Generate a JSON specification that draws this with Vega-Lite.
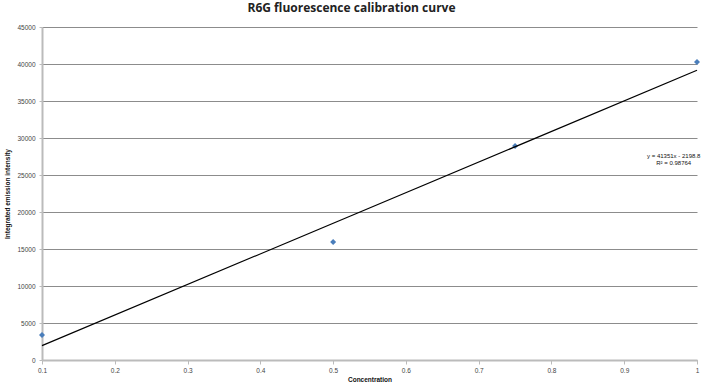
{
  "$schema": "https://vega.github.io/schema/vega-lite/v6.json",
  "width": 655,
  "height": 333,
  "autosize": "none",
  "padding": {"left": 42, "top": 27, "right": 6, "bottom": 29},
  "background": "white",
  "title": {
    "text": "R6G fluorescence calibration curve",
    "font": "Open Sans",
    "fontSize": 12,
    "fontWeight": "bold",
    "color": "#222222",
    "anchor": "middle",
    "dx": -18,
    "offset": 9
  },
  "config": {
    "view": {"stroke": null},
    "font": "Liberation Sans",
    "axis": {
      "labelFont": "Liberation Sans",
      "titleFont": "Liberation Sans",
      "labelFontSize": 6.5,
      "labelColor": "#444444",
      "titleFontSize": 6.5,
      "titleFontWeight": "bold",
      "titleColor": "#111111",
      "labelOverlap": false
    }
  },
  "datasets": {
    "points": [
      {"Concentration": 0.1, "Intensity": 3380},
      {"Concentration": 0.5, "Intensity": 15950},
      {"Concentration": 0.75, "Intensity": 28920},
      {"Concentration": 1.0, "Intensity": 40280}
    ],
    "trend": [
      {"Concentration": 0.1, "Intensity": 1936.3},
      {"Concentration": 1.0, "Intensity": 39152.2}
    ],
    "label": [
      {"Concentration": 0.968, "Intensity": 27570, "text": "y = 41351x - 2198.8"},
      {"Concentration": 0.968, "Intensity": 26620, "text": "R² = 0.98764"}
    ]
  },
  "encoding": {
    "x": {
      "field": "Concentration", "type": "quantitative",
      "scale": {"domain": [0.1, 1], "nice": false, "zero": false},
      "axis": {
        "values": [0.1, 0.2, 0.3, 0.4, 0.5, 0.6, 0.7, 0.8, 0.9, 1],
        "labelExpr": "datum.value == 1 ? '1' : format(datum.value, '.1f')",
        "grid": false,
        "domainColor": "#BBBBBB", "domainWidth": 2,
        "tickColor": "#BBBBBB", "tickSize": 4,
        "labelPadding": 3,
        "title": "Concentration", "titlePadding": 3,
        "labelFlush": false
      }
    },
    "y": {
      "field": "Intensity", "type": "quantitative",
      "scale": {"domain": [0, 45000], "nice": false},
      "axis": {
        "values": [0, 5000, 10000, 15000, 20000, 25000, 30000, 35000, 40000, 45000],
        "tickCount": 10,
        "format": "d",
        "grid": true, "gridColor": "#8C8C8C", "gridWidth": 1,
        "domainColor": "#BBBBBB", "domainWidth": 2,
        "tickColor": "#BBBBBB", "tickSize": 3,
        "labelPadding": 4,
        "labelOverlap": false,
        "title": "Integrated emission intensity", "titlePadding": 6
      }
    }
  },
  "layer": [
    {
      "data": {"name": "points"},
      "mark": {"type": "point", "shape": "diamond", "filled": true, "size": 36, "color": "#4A7EBB", "opacity": 1}
    },
    {
      "data": {"name": "trend"},
      "mark": {"type": "line", "color": "#000000", "strokeWidth": 1.2}
    },
    {
      "data": {"name": "label"},
      "mark": {"type": "text", "fontSize": 6, "color": "#111111", "align": "center", "baseline": "middle", "font": "Liberation Sans"},
      "encoding": {
        "text": {"field": "text"}
      }
    }
  ]
}
